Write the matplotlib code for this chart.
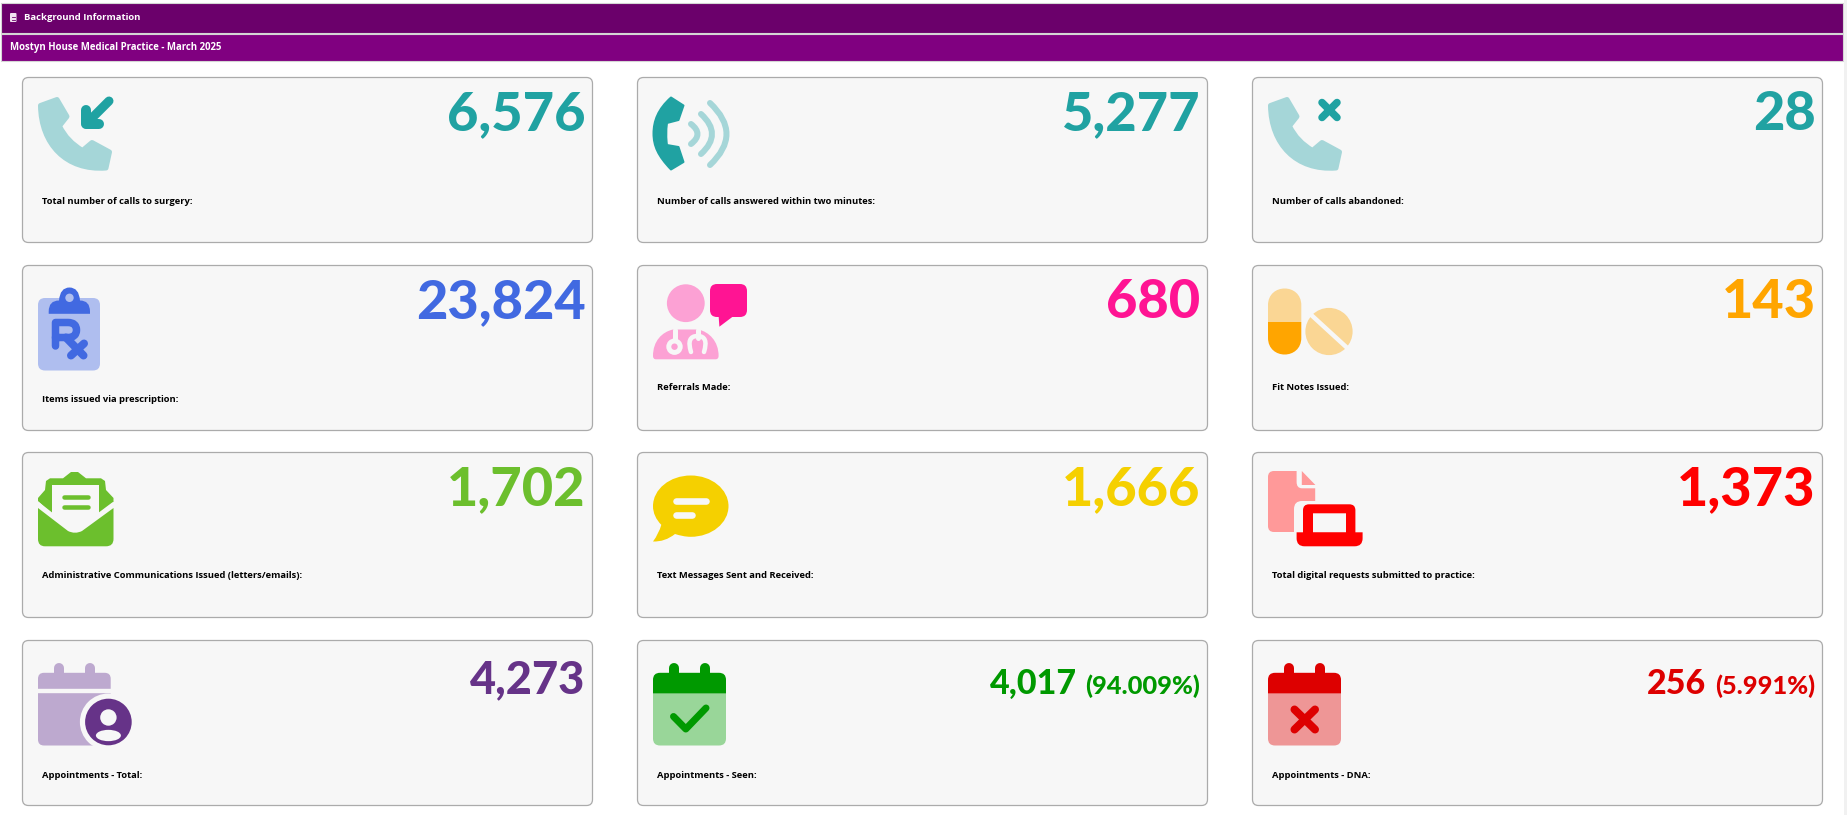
import matplotlib
matplotlib.use("Agg")
import matplotlib.pyplot as plt
from matplotlib.patches import Circle, Ellipse, FancyBboxPatch, PathPatch, Rectangle
from matplotlib.path import Path

header_title = "Background Information"
practice_title = "Mostyn House Medical Practice - March 2025"

labels = [
    "Total number of calls to surgery:",
    "Number of calls answered within two minutes:",
    "Number of calls abandoned:",
    "Items issued via prescription:",
    "Referrals Made:",
    "Fit Notes Issued:",
    "Administrative Communications Issued (letters/emails):",
    "Text Messages Sent and Received:",
    "Total digital requests submitted to practice:",
    "Appointments - Total:",
    "Appointments - Seen:",
    "Appointments - DNA:",
]
values = [6576, 5277, 28, 23824, 680, 143, 1702, 1666, 1373, 4273, 4017, 256]
percents = [None, None, None, None, None, None, None, None, None, None, 94.009, 5.991]
colors = ["#20A2A2", "#20A2A2", "#20A2A2", "#4169E1", "#FF1493", "#FFA500",
          "#6CBF2D", "#F5D000", "#FF0000", "#663388", "#009900", "#DD0000"]
tints = ["#A5D6D8", "#A5D6D8", "#A5D6D8", "#AFBEEF", "#FCA1D4", "#FAD694",
         "#6CBF2D", "#F5D000", "#FF9999", "#BDA9CF", "#99D699", "#EE9696"]

BG = "#F7F7F7"
card_x = [22.5, 637.5, 1252.5]
card_y = [77.5, 265.5, 452.5, 640.5]
CARD_W = 570
CARD_H = 165
icon_dy = [18.5, 18.5, 18.5, 22, 18.5, 23, 18.5, 23, 18.5, 22, 22, 22]
label_dy = [123.5, 123.5, 123.5, 134.5, 122.5, 122.5, 123, 123, 123, 134.5, 134.5, 134.5]

fig = plt.figure(figsize=(18.47, 8.15), dpi=100)
ax = fig.add_axes([0, 0, 1, 1])
ax.set_xlim(0, 1847)
ax.set_ylim(815, 0)
ax.axis("off")
ax.set_autoscale_on(False)


def shape(ox, oy, cmds, color, edge=None, ew=0, z=3):
    verts, codes = [], []
    for c in cmds:
        if c[0] == "M":
            verts.append(c[1:]); codes.append(Path.MOVETO)
        elif c[0] == "L":
            verts.append(c[1:]); codes.append(Path.LINETO)
        elif c[0] == "Q":
            verts += [c[1:3], c[3:5]]; codes += [Path.CURVE3] * 2
        elif c[0] == "C":
            verts += [c[1:3], c[3:5], c[5:7]]; codes += [Path.CURVE4] * 3
        else:
            verts.append(verts[-1]); codes.append(Path.CLOSEPOLY)
    verts = [(ox + a, oy + b) for a, b in verts]
    ax.add_patch(PathPatch(Path(verts, codes), facecolor=color, edgecolor=edge or "none",
                           linewidth=ew * 0.72, joinstyle="round", zorder=z))


def stroke(ox, oy, cmds, color, w, z=4):
    verts, codes = [], []
    for c in cmds:
        if c[0] == "M":
            verts.append(c[1:]); codes.append(Path.MOVETO)
        elif c[0] == "L":
            verts.append(c[1:]); codes.append(Path.LINETO)
        elif c[0] == "Q":
            verts += [c[1:3], c[3:5]]; codes += [Path.CURVE3] * 2
    verts = [(ox + a, oy + b) for a, b in verts]
    ax.add_patch(PathPatch(Path(verts, codes), facecolor="none", edgecolor=color,
                           linewidth=w * 0.72, capstyle="round", joinstyle="round", zorder=z))


def rbox(ox, oy, x, y, w, h, rt, rb, color, z=3):
    shape(ox, oy, [("M", x + rt, y), ("L", x + w - rt, y), ("Q", x + w, y, x + w, y + rt),
                   ("L", x + w, y + h - rb), ("Q", x + w, y + h, x + w - rb, y + h),
                   ("L", x + rb, y + h), ("Q", x, y + h, x, y + h - rb),
                   ("L", x, y + rt), ("Q", x, y, x + rt, y), ("Z",)], color, z=z)


def circle(ox, oy, x, y, r, color, z=4):
    ax.add_patch(Circle((ox + x, oy + y), r, facecolor=color, edgecolor="none", zorder=z))


def handset(ox, oy, color):
    shape(ox, oy, [("M", 2.5, 9.5), ("L", 19, 3.5), ("L", 29, 20.5), ("L", 21.5, 30),
                   ("C", 27, 41, 34, 48, 44.5, 54.5), ("L", 54, 46.5), ("L", 71.5, 56), ("L", 68, 72),
                   ("C", 28, 75, 3, 48, 2.5, 9.5), ("Z",)], color, edge=color, ew=5)


def icon_call_in(ox, oy, c, t):
    handset(ox, oy, t)
    stroke(ox, oy, [("M", 71, 5), ("L", 48, 28)], c, 9)
    stroke(ox, oy, [("M", 48, 14), ("L", 48, 28), ("L", 61, 28)], c, 10)


def icon_call_answered(ox, oy, c, t):
    shape(ox, oy, [("M", 18, 1.5), ("L", 30.5, 9.5), ("L", 25.5, 24), ("L", 14, 27),
                   ("C", 13, 35, 13, 42, 14, 49), ("L", 25.5, 51), ("L", 30.5, 66), ("L", 18, 73.5),
                   ("C", 5, 60, 0.5, 50, 0.5, 37.5), ("C", 0.5, 25, 5, 13, 18, 1.5), ("Z",)], c, edge=c, ew=2)
    stroke(ox, oy, [("M", 38, 28), ("Q", 51, 38, 38, 48)], t, 6)
    stroke(ox, oy, [("M", 48, 18), ("Q", 70, 38, 48, 58)], t, 6)
    stroke(ox, oy, [("M", 57, 7), ("Q", 90, 38, 57, 69)], t, 6)


def icon_call_abandoned(ox, oy, c, t):
    handset(ox, oy, t)
    stroke(ox, oy, [("M", 54, 6.5), ("L", 69, 21.5)], c, 7.5)
    stroke(ox, oy, [("M", 69, 6.5), ("L", 54, 21.5)], c, 7.5)


def icon_prescription(ox, oy, c, t):
    rbox(ox, oy, 0, 10.5, 62, 72.5, 7, 7, t)
    shape(ox, oy, [("M", 10.7, 24), ("Q", 10.7, 13, 21, 13), ("Q", 22, 0, 31.5, 0), ("Q", 41, 0, 42, 13),
                   ("Q", 52, 13, 52, 24), ("L", 52, 26.3), ("L", 10.7, 26.3), ("Z",)], c, z=4)
    circle(ox, oy, 31.5, 10.3, 4.2, t, z=5)
    stroke(ox, oy, [("M", 17.5, 58.5), ("L", 17.5, 35), ("L", 30, 35), ("Q", 38.5, 35, 38.5, 42.5),
                    ("Q", 38.5, 50, 30, 50), ("L", 17.5, 50)], c, 7.5)
    stroke(ox, oy, [("M", 28, 50), ("L", 45.5, 68)], c, 8)
    stroke(ox, oy, [("M", 33, 68), ("L", 46, 56)], c, 8)


def icon_referral(ox, oy, c, t):
    circle(ox, oy, 32.8, 19.2, 18.9, t)
    rbox(ox, oy, 57, 0, 37, 33, 7, 7, c)
    shape(ox, oy, [("M", 65.6, 32), ("L", 66.4, 42.7), ("L", 80.6, 32), ("Z",)], c)
    shape(ox, oy, [("M", 0, 72), ("C", 0, 57, 9, 48, 20, 45.5), ("L", 45.5, 45.5),
                   ("C", 56, 48, 65.6, 57, 65.6, 72), ("Q", 65.6, 75.3, 62.5, 75.3),
                   ("L", 3, 75.3), ("Q", 0, 75.3, 0, 72), ("Z",)], t)
    stroke(ox, oy, [("M", 22, 45.5), ("L", 22, 57)], BG, 5)
    circle(ox, oy, 21.5, 62.7, 8.2, BG, z=5)
    circle(ox, oy, 21.5, 62.7, 3.2, t, z=6)
    stroke(ox, oy, [("M", 44.5, 45.5), ("L", 44.5, 54)], BG, 5)
    stroke(ox, oy, [("M", 38, 68), ("Q", 33, 52, 44.5, 52), ("Q", 56, 52, 51, 68)], BG, 4.5)


def icon_pills(ox, oy, c, t):
    shape(ox, oy, [("M", 0, 33.5), ("L", 0, 16.7), ("C", 0, -5.6, 33.3, -5.6, 33.3, 16.7),
                   ("L", 33.3, 33.5), ("Z",)], t)
    shape(ox, oy, [("M", 0, 33.5), ("L", 33.3, 33.5), ("L", 33.3, 49.3),
                   ("C", 33.3, 71.6, 0, 71.6, 0, 49.3), ("Z",)], c)
    circle(ox, oy, 61, 43, 23.6, t)
    stroke(ox, oy, [("M", 40, 23.5), ("L", 82, 62)], BG, 4.5, z=5)


def icon_mail(ox, oy, c, t):
    shape(ox, oy, [("M", 0, 30), ("L", 0, 27), ("L", 7, 19), ("L", 8, 10), ("L", 12, 7.3), ("L", 25, 7.3),
                   ("L", 33, 1), ("L", 40, 1), ("L", 48, 7.3), ("L", 63, 7.3), ("L", 67, 10),
                   ("L", 68, 19), ("L", 75.5, 27), ("L", 75.5, 31), ("L", 61, 43), ("L", 14, 43), ("Z",)], c)
    shape(ox, oy, [("M", 14, 14), ("L", 61, 14), ("L", 61, 44), ("L", 37, 60), ("L", 14, 44), ("Z",)], BG, z=4)
    stroke(ox, oy, [("M", 26, 26), ("L", 50, 26)], c, 4.5, z=5)
    stroke(ox, oy, [("M", 26, 35.5), ("L", 50, 35.5)], c, 4.5, z=5)
    shape(ox, oy, [("M", 0, 37), ("L", 30, 60), ("Q", 37, 63.5, 44, 60), ("L", 75.5, 37),
                   ("L", 75.5, 68), ("Q", 75.5, 75.3, 68, 75.3), ("L", 7, 75.3), ("Q", 0, 75.3, 0, 68), ("Z",)],
          c, z=6)
    stroke(ox, oy, [("M", 0, 33), ("L", 30, 56.5), ("Q", 37, 60, 44, 56.5), ("L", 75.5, 33)], BG, 4, z=5)


def icon_text(ox, oy, c, t):
    shape(ox, oy, [("M", 37.75, 0), ("C", 58.6, 0, 75.5, 13.7, 75.5, 30.65), ("C", 75.5, 47.6, 58.6, 61.3, 37.75, 61.3),
                   ("C", 32, 61.3, 27, 60, 22, 58.5), ("Q", 12, 66.5, 0, 66), ("Q", 6, 58, 8.3, 49.3),
                   ("C", 3, 44, 0, 37.5, 0, 30.65), ("C", 0, 13.7, 16.9, 0, 37.75, 0), ("Z",)], c)
    stroke(ox, oy, [("M", 22.5, 25), ("L", 53, 25)], BG, 6.6)
    stroke(ox, oy, [("M", 22.5, 39), ("L", 39, 39)], BG, 6.6)


def icon_digital(ox, oy, c, t):
    shape(ox, oy, [("M", 6, 0), ("L", 28.6, 0), ("L", 28.6, 11), ("Q", 28.6, 17.3, 34, 17.3), ("L", 47.2, 17.3),
                   ("L", 47.2, 55), ("Q", 47.2, 61, 41, 61), ("L", 6, 61), ("Q", 0, 61, 0, 55),
                   ("L", 0, 6), ("Q", 0, 0, 6, 0), ("Z",)], t)
    shape(ox, oy, [("M", 33.8, 0), ("L", 47.4, 14), ("L", 33.8, 14), ("Z",)], t)
    rbox(ox, oy, 26, 30, 71, 48, 8, 8, BG, z=4)
    rbox(ox, oy, 35, 33.3, 52.4, 32, 6, 0, c, z=5)
    rbox(ox, oy, 45, 42.3, 33, 19.5, 0, 0, BG, z=6)
    rbox(ox, oy, 28.6, 61.3, 66, 14, 0, 8, c, z=7)


def cal_pegs(ox, oy, color):
    stroke(ox, oy, [("M", 21, 5), ("L", 21, 14)], color, 10, z=3)
    stroke(ox, oy, [("M", 52, 5), ("L", 52, 14)], color, 10, z=3)


def icon_cal_total(ox, oy, c, t):
    cal_pegs(ox, oy, t)
    rbox(ox, oy, 0, 10.3, 72.7, 16, 6, 0, t)
    rbox(ox, oy, 0, 30.7, 72.7, 52.3, 0, 6, t)
    circle(ox, oy, 70.4, 59.5, 28.5, BG)
    circle(ox, oy, 70.4, 59.5, 23.3, c, z=5)
    circle(ox, oy, 70.4, 55, 8.2, BG, z=6)
    ax.add_patch(Ellipse((ox + 70.4, oy + 73), 25, 11.3, facecolor=BG, edgecolor="none", zorder=6))


def cal_base(ox, oy, c, t):
    cal_pegs(ox, oy, c)
    rbox(ox, oy, 0, 10.3, 73, 21, 7, 0, c)
    rbox(ox, oy, 0, 31, 73, 52, 0, 7, t)


def icon_cal_seen(ox, oy, c, t):
    cal_base(ox, oy, c, t)
    stroke(ox, oy, [("M", 20.5, 54), ("L", 32.8, 66.5), ("L", 53, 45.5)], c, 7)


def icon_cal_dna(ox, oy, c, t):
    cal_base(ox, oy, c, t)
    stroke(ox, oy, [("M", 26.5, 47), ("L", 47, 67)], c, 8)
    stroke(ox, oy, [("M", 47, 47), ("L", 26.5, 67)], c, 8)


icons = [icon_call_in, icon_call_answered, icon_call_abandoned, icon_prescription,
         icon_referral, icon_pills, icon_mail, icon_text, icon_digital,
         icon_cal_total, icon_cal_seen, icon_cal_dna]

# header bands
ax.add_patch(Rectangle((1, 3), 1842, 29.5, facecolor="#6B006B", edgecolor="#D5D5D5", linewidth=0.8))
ax.add_patch(Rectangle((1, 33.5), 1842, 27.5, facecolor="#800080", edgecolor="#D5D5D5", linewidth=0.8))
ax.add_patch(Rectangle((1844, 0), 3, 815, facecolor="#F1F1F1", edgecolor="none"))
ax.add_patch(FancyBboxPatch((10, 13), 6.5, 9, boxstyle="round,pad=0,rounding_size=1", facecolor="#F1E3F1", edgecolor="none"))
ax.plot([11.5, 15], [17, 17], color="#6B006B", lw=0.6)
ax.plot([11.5, 15], [19.5, 19.5], color="#6B006B", lw=0.6)
ax.text(23.5, 18, header_title, color="white", fontsize=6.8, fontweight="bold", family="Open Sans", va="center")
ax.text(9.5, 47.8, practice_title, color="white", fontsize=6.95, fontweight="bold", family="Open Sans", va="center")

renderer = fig.canvas.get_renderer()

for i, name in enumerate(labels):
    col = i % 3
    row = i // 3
    x0 = card_x[col]
    y0 = card_y[row]
    ax.add_patch(FancyBboxPatch((x0, y0), CARD_W, CARD_H, boxstyle="round,pad=0,rounding_size=6",
                                facecolor=BG, edgecolor="#ABABAB", linewidth=0.9, zorder=1))
    icons[i](x0 + 15.5, y0 + icon_dy[i], colors[i], tints[i])
    ax.text(x0 + 19.3, y0 + label_dy[i], name, color="black", fontsize=6.75, fontweight="bold",
            family="Open Sans", va="center", zorder=5)

    right = x0 + CARD_W - 7
    base = y0 + 53
    if percents[i] is not None:
        p = ax.text(right, base + 0.5, f"({percents[i]}%)", color=colors[i], fontsize=18.3, fontweight="black",
                    family="Lato", ha="right", va="baseline", zorder=5)
        left = p.get_window_extent(renderer).x0
        ax.text(left - 9, base + 0.5, f"{values[i]:,}", color=colors[i], fontsize=24.5, fontweight="black",
                family="Lato", ha="right", va="baseline", zorder=5)
    else:
        size = 32.5 if i == 9 else 39
        ax.text(right, base, f"{values[i]:,}", color=colors[i], fontsize=size, fontweight="black",
                family="Lato", ha="right", va="baseline", zorder=5)

fig.savefig("out.png", dpi=100)
